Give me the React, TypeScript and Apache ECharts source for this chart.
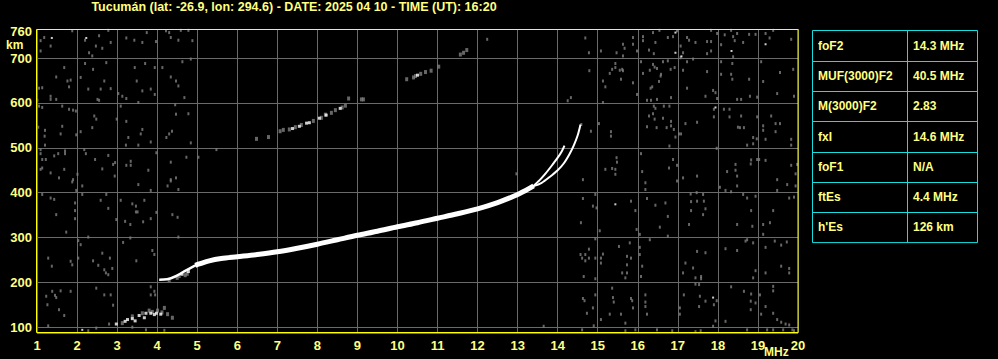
import React, { useEffect, useRef } from 'react';
import * as echarts from 'echarts';

const TITLE = 'Tucumán (lat: -26.9, lon: 294.6) - DATE: 2025 04 10 - TIME (UT): 16:20';
const X_MIN = 1;
const X_MAX = 20;
const Y_MIN = 87;
const Y_MAX = 765;
const Y_TOP_LABEL = '760';
const Y_UNIT = 'km';
const X_UNIT = 'MHz';

const paramNames = ['foF2', 'MUF(3000)F2', 'M(3000)F2', 'fxI', 'foF1', 'ftEs', "h'Es"];
const paramValues = ['14.3 MHz', '40.5 MHz', '2.83', '14.6 MHz', 'N/A', '4.4 MHz', '126 km'];

// F-layer trace (frequency MHz, virtual height km)
const traceEarly = [[4.05, 206], [4.25, 207], [4.45, 213], [4.65, 223], [4.85, 233], [5.05, 241]];
const traceMain = [
  [4.95, 238], [5.05, 241], [5.3, 248], [5.6, 253], [6.0, 257], [6.5, 262], [7.0, 268], [7.5, 276],
  [8.0, 285], [8.5, 295], [9.0, 305], [9.5, 314], [10.0, 324], [10.5, 333], [11.0, 343],
  [11.5, 353], [12.0, 364], [12.5, 378], [12.9, 392], [13.2, 405], [13.4, 415],
];
const traceO = [[13.38, 414], [13.55, 428], [13.7, 443], [13.85, 460], [14.0, 478], [14.1, 492], [14.17, 505]];
const traceX = [[13.38, 414], [13.6, 422], [13.8, 435], [14.0, 450], [14.15, 465], [14.3, 487], [14.4, 505], [14.5, 528], [14.57, 552]];

// Es trace and faint echoes
const echoWhite = [
  [2.98, 107], [3.2, 113], [3.26, 117], [3.38, 119], [3.45, 114], [3.55, 126], [3.68, 121], [3.72, 131],
  [3.84, 131], [3.93, 128], [3.98, 131], [4.09, 129], [4.78, 224], [4.62, 218],
  [7.38, 543], [7.55, 548], [7.73, 555], [7.8, 556], [8.05, 566], [8.22, 573], [8.57, 588], [10.5, 662],
];
const echoGrey = [
  [3.13, 109], [3.38, 124], [3.63, 131], [3.8, 137], [4.01, 137], [4.18, 143], [4.26, 129], [4.38, 121],
  [3.88, 134], [4.12, 133],
  [4.3, 205], [4.55, 214], [4.7, 216], [4.5, 210], [4.75, 219],
  [6.48, 520], [6.78, 524], [7.07, 537], [7.15, 540], [7.3, 541], [7.45, 546], [7.6, 551], [7.9, 560],
  [8.1, 567], [8.2, 574], [8.35, 578], [8.45, 584], [8.62, 590], [8.7, 594], [8.78, 610], [9.1, 608], [9.15, 608],
  [10.23, 653], [10.4, 657], [10.45, 660], [10.58, 665], [10.7, 669], [10.84, 672], [11.03, 681],
  [11.57, 708], [11.65, 712], [11.73, 718],
];

// background noise dots
const noiseLeft = [
  [1.09, 739], [1.18, 746], [1.34, 727], [1.88, 761], [2.2, 740], [2.3, 712], [2.38, 705], [2.47, 727],
  [2.55, 750], [2.63, 722], [2.78, 762], [2.84, 735], [3.23, 745], [3.43, 740], [3.63, 735], [3.74, 757],
  [3.97, 737], [4.22, 761], [4.3, 757], [4.34, 746], [4.53, 740], [4.59, 762], [4.78, 762], [4.88, 739], [1.09, 716],
  [1.48, 658], [1.68, 679], [1.76, 649], [1.84, 651], [1.8, 636], [1.13, 634], [1.05, 633], [1.34, 615],
  [1.34, 608], [1.48, 608], [2.09, 657], [2.2, 688], [2.28, 631], [2.4, 675], [2.55, 606], [2.51, 608],
  [2.59, 631], [2.68, 649], [2.73, 690], [2.84, 632], [3.03, 621], [3.13, 615], [3.23, 610], [3.44, 679],
  [3.49, 649], [3.63, 627], [3.7, 688], [3.84, 631], [3.94, 619], [3.94, 679], [4.13, 679], [4.34, 658],
  [4.47, 649], [4.53, 638], [4.63, 692], [4.68, 612], [4.84, 698], [1.01, 606],
  [1.05, 593], [1.13, 590], [1.63, 593], [1.8, 586], [1.9, 584], [1.97, 582], [2.43, 571], [2.48, 564],
  [2.38, 545], [2.09, 536], [1.59, 531], [1.63, 548], [1.2, 539], [1.19, 526], [1.03, 546], [1.98, 529],
  [2.99, 564], [3.23, 559], [3.09, 593], [3.53, 601], [3.63, 541], [3.59, 531], [3.28, 523], [3.22, 506],
  [3.53, 506], [3.84, 513], [3.98, 489], [4.23, 523], [4.3, 531], [4.37, 537], [4.45, 596], [4.47, 575],
  [4.78, 576], [4.84, 511], [1.2, 506],
  [1.09, 496], [1.09, 487], [1.13, 474], [1.22, 474], [1.43, 482], [1.53, 487], [1.7, 493], [1.7, 487],
  [1.09, 452], [1.13, 455], [1.34, 444], [1.55, 433], [1.68, 452], [1.9, 429], [1.88, 424], [1.98, 405],
  [2.01, 441], [2.13, 415], [2.22, 487], [2.18, 496], [2.45, 474], [2.63, 453], [2.78, 483], [2.9, 463],
  [2.95, 467], [2.94, 437], [3.34, 470], [3.34, 461], [3.23, 461], [3.53, 418], [3.78, 450], [3.84, 405],
  [4.26, 415], [4.34, 468], [4.34, 429], [4.34, 426], [4.47, 433], [4.53, 407], [4.73, 479], [5.03, 479],
  [1.13, 396], [1.34, 388], [1.43, 385], [1.48, 351], [1.73, 312], [1.95, 377], [1.95, 360], [1.95, 342],
  [2.13, 396], [2.59, 383], [2.73, 396], [2.78, 365], [2.98, 340], [3.09, 383], [3.2, 336], [3.33, 329],
  [3.38, 375], [3.47, 370], [3.47, 357], [3.51, 357], [3.65, 335], [3.68, 383], [3.84, 342], [3.98, 356],
  [4.38, 351], [4.51, 345], [4.53, 301],
  [2.03, 293], [2.09, 284], [2.28, 301], [1.28, 254], [1.37, 236], [1.84, 247], [1.88, 239], [2.03, 254],
  [2.4, 248], [2.53, 238], [2.63, 265], [2.68, 228], [2.72, 221], [2.78, 217], [2.82, 254], [2.88, 231],
  [3.15, 289], [3.33, 299], [3.48, 248], [3.88, 271], [3.93, 262],
  [1.23, 169], [1.26, 150], [1.38, 180], [1.45, 171], [1.48, 166], [1.59, 181], [1.55, 139], [1.68, 126],
  [1.84, 180], [2.48, 187], [2.68, 172], [2.84, 172], [2.9, 149], [2.8, 107], [3.84, 190], [3.93, 180],
  [3.95, 172], [3.84, 172], [1.28, 103], [2.28, 92], [2.48, 98], [3.38, 100], [3.72, 94], [4.18, 93],
];
const noiseMid = [[5.48, 496], [12.24, 742], [12.97, 442], [13.65, 102], [14.33, 612], [14.25, 605]];
const noiseRight = [
  [14.69, 745], [14.78, 712], [15.08, 716], [15.47, 712], [15.63, 731], [15.63, 705], [15.67, 722], [15.88, 746],
  [15.88, 731], [15.98, 716], [16.13, 748], [16.13, 739], [16.28, 718], [16.38, 757], [16.4, 710], [16.44, 735],
  [16.54, 762], [16.75, 746], [16.88, 748], [16.98, 761], [17.07, 727], [17.13, 712], [17.23, 746], [17.28, 740],
  [17.44, 735], [17.73, 737], [17.73, 710], [17.83, 762], [17.83, 737], [17.83, 716], [17.98, 755], [18.08, 730],
  [18.17, 752], [18.33, 762], [18.38, 748], [18.42, 739], [18.48, 755], [18.63, 735], [18.78, 753], [18.94, 753],
  [19.19, 755], [19.29, 745], [19.38, 762], [19.83, 742], [18.38, 703],
  [14.79, 672], [15.13, 649], [15.19, 636], [15.3, 666], [15.36, 675], [15.44, 679], [15.44, 688], [15.55, 673],
  [15.61, 675], [15.63, 672], [15.58, 653], [15.88, 645], [15.98, 619], [16.08, 692], [16.13, 666], [16.3, 673],
  [16.32, 633], [16.36, 636], [16.38, 686], [16.42, 680], [16.48, 677], [16.53, 648], [16.57, 660], [16.58, 664],
  [16.63, 692], [16.75, 694], [16.82, 675], [16.83, 612], [16.92, 679], [17.07, 701], [17.13, 673], [17.23, 633],
  [17.23, 692], [17.38, 698], [17.69, 615], [17.73, 670], [17.88, 628], [17.94, 623], [17.98, 610], [18.08, 692],
  [18.08, 664], [18.33, 664], [18.36, 688], [18.36, 653], [18.48, 608], [18.58, 608], [18.78, 653], [18.8, 615],
  [18.98, 613], [19.08, 692], [19.13, 648], [19.48, 621], [19.55, 668], [19.88, 675], [19.9, 615], [16.23, 606],
  [16.33, 606], [16.48, 608],
  [14.59, 552], [14.83, 537], [15.03, 554], [15.13, 601], [15.33, 536], [15.33, 526], [16.23, 547], [16.28, 571],
  [16.38, 576], [16.42, 564], [16.44, 588], [16.47, 545], [16.63, 566], [16.72, 545], [16.83, 559], [16.83, 549],
  [16.9, 541], [16.94, 524], [17.03, 531], [17.08, 531], [17.19, 554], [17.48, 557], [17.9, 586], [17.9, 569],
  [18.15, 586], [18.29, 586], [18.29, 569], [18.5, 546], [18.55, 545], [18.58, 571], [18.65, 545], [18.73, 506],
  [18.88, 523], [18.88, 509], [18.97, 520], [18.98, 569], [19.13, 549], [19.13, 539], [19.19, 519], [19.33, 571],
  [19.44, 554], [19.44, 536], [19.55, 554], [19.83, 519], [19.83, 506], [16.79, 504], [16.4, 593], [16.65, 593],
  [16.79, 593],
  [14.63, 429], [15.19, 452], [15.36, 454], [15.44, 452], [15.47, 478], [15.48, 468], [15.44, 441], [16.08, 487],
  [16.11, 447], [16.19, 422], [16.19, 407], [16.78, 455], [16.88, 474], [16.98, 461], [16.98, 426], [17.13, 433],
  [17.48, 437], [17.97, 499], [18.05, 412], [18.23, 447], [18.44, 463], [18.44, 450], [18.48, 437], [18.48, 415],
  [18.82, 464], [18.83, 473], [18.98, 474], [19.03, 474], [19.19, 472], [19.48, 429], [19.83, 461], [19.94, 442],
  [19.98, 463], [19.48, 405], [19.73, 418], [19.94, 415], [18.19, 405], [18.33, 402],
  [14.63, 387], [14.94, 396], [14.97, 366], [14.88, 370], [15.83, 381], [15.94, 360], [16.23, 387], [16.44, 372],
  [16.55, 323], [16.69, 377], [16.75, 347], [16.75, 303], [17.32, 397], [17.33, 380], [17.33, 360], [17.47, 400],
  [17.48, 381], [17.63, 396], [17.65, 381], [17.69, 364], [17.63, 351], [17.28, 329], [18.48, 329], [18.63, 396],
  [18.73, 388], [18.83, 360], [18.86, 325], [18.94, 392], [19.13, 329], [19.13, 307], [19.3, 333], [19.38, 360],
  [19.78, 388], [19.9, 390], [14.58, 333], [15.05, 315], [15.97, 318], [16.05, 307], [16.3, 295],
  [14.57, 262], [14.61, 254], [14.69, 262], [14.69, 248], [14.78, 274], [14.78, 254], [14.94, 297], [14.94, 254],
  [14.94, 208], [14.65, 213], [15.08, 254], [15.13, 263], [15.08, 243], [15.53, 280], [15.73, 258], [15.73, 239],
  [15.73, 221], [15.8, 288], [15.83, 254], [15.61, 221], [15.69, 210], [16.05, 278], [16.05, 262], [16.08, 213],
  [16.11, 236], [17.19, 243], [17.13, 221], [17.38, 232], [17.44, 210], [17.48, 269], [17.58, 213], [17.58, 208],
  [17.69, 266], [18.19, 275], [18.48, 271], [18.69, 292], [18.73, 295], [18.88, 288], [18.94, 226], [19.19, 278],
  [19.19, 221], [19.42, 292], [19.58, 283], [19.58, 236], [19.72, 290], [19.78, 231], [19.78, 221], [18.88, 210],
  [14.63, 164], [14.67, 159], [14.73, 131], [14.88, 143], [14.94, 172], [15.08, 117], [15.36, 187], [15.38, 166],
  [15.4, 156], [15.3, 129], [15.58, 129], [15.69, 109], [15.83, 164], [15.86, 159], [15.88, 143], [16.19, 172],
  [16.19, 156], [16.19, 146], [16.23, 129], [16.48, 94], [17.05, 143], [17.05, 129], [17.15, 172], [17.44, 196],
  [17.53, 195], [17.55, 169], [17.53, 146], [17.69, 158], [17.9, 150], [17.94, 114], [17.97, 159], [18.19, 113],
  [18.33, 190], [18.65, 180], [18.82, 158], [18.82, 139], [18.83, 174], [18.94, 154], [19.05, 172], [19.08, 129],
  [19.19, 146], [19.38, 191], [19.38, 181], [19.38, 131], [19.48, 117], [19.58, 111], [19.69, 107], [19.78, 105],
  [19.86, 94], [19.9, 92], [14.9, 103], [14.61, 94], [15.69, 92], [15.94, 94], [16.86, 92], [17.44, 90],
  [17.57, 92], [17.88, 102], [18.73, 94], [19.23, 94], [19.38, 94], [19.63, 94],
];
const noiseWhite = [
  [1.37, 745], [2.23, 745], [2.13, 94], [16.94, 757], [16.94, 712], [17.09, 704], [18.34, 716], [19.19, 731],
  [17.94, 590], [15.44, 374], [17.88, 166],
];

const FONT = '"Liberation Sans", Arial, sans-serif';
const PALE_YELLOW = '#ffff80';
const CYAN = '#17dede';

export default function App() {
  const ref = useRef<HTMLDivElement>(null);

  useEffect(() => {
    if (!ref.current) return;
    const chart = echarts.init(ref.current, null, { renderer: 'svg' });

    const gLeft = 37;
    const gTop = 29;
    const gRight = 798;
    const gBottom = 333;

    // table geometry
    const tL = 812.5, tR = 977.5, tC = 907.5, tT = 30.5, rowH = 30.3;
    const nRows = paramNames.length;
    const tB = tT + nRows * rowH;
    const tableEls: any[] = [];
    tableEls.push({
      type: 'rect', shape: { x: tL, y: tT, width: tR - tL, height: tB - tT },
      style: { fill: 'none', stroke: CYAN, lineWidth: 1 }, z: 100,
    });
    tableEls.push({
      type: 'line', shape: { x1: tC, y1: tT, x2: tC, y2: tB },
      style: { stroke: CYAN, lineWidth: 1 }, z: 100,
    });
    for (let i = 1; i < nRows; i++) {
      const y = Math.round(tT + i * rowH) + 0.5;
      tableEls.push({
        type: 'line', shape: { x1: tL, y1: y, x2: tR, y2: y },
        style: { stroke: CYAN, lineWidth: 1 }, z: 100,
      });
    }
    paramNames.forEach((name, i) => {
      const cy = tT + (i + 0.5) * rowH;
      tableEls.push({
        type: 'text', x: 818, y: cy, z: 100,
        style: { text: name, fill: PALE_YELLOW, font: `bold 12px ${FONT}`, textAlign: 'left', textVerticalAlign: 'middle' },
      });
      tableEls.push({
        type: 'text', x: 913, y: cy, z: 100,
        style: { text: paramValues[i], fill: PALE_YELLOW, font: `bold 12px ${FONT}`, textAlign: 'left', textVerticalAlign: 'middle' },
      });
    });

    const option: any = {
      animation: false,
      backgroundColor: '#000000',
      grid: { left: gLeft, top: gTop, right: 998 - gRight, bottom: 359 - gBottom, containLabel: false },
      xAxis: {
        type: 'value', min: X_MIN, max: X_MAX, interval: 1,
        axisLine: { show: false }, axisTick: { show: false },
        axisLabel: { color: PALE_YELLOW, fontWeight: 'bold', fontSize: 13, fontFamily: FONT, margin: 6, showMaxLabel: true, showMinLabel: true },
        splitLine: { show: true, lineStyle: { color: '#6a6a6a', width: 1 } },
      },
      yAxis: {
        type: 'value', min: Y_MIN, max: Y_MAX, splitNumber: 7,
        axisLine: { show: false }, axisTick: { show: false },
        axisLabel: {
          color: PALE_YELLOW, fontWeight: 'bold', fontSize: 13, fontFamily: FONT, margin: 5,
          formatter: (v: number) => (v % 100 === 0 && v >= 100 && v <= 700 ? String(v) : ''),
        },
        splitLine: { show: true, lineStyle: { color: '#6a6a6a', width: 1 } },
      },
      series: [
        {
          type: 'scatter', data: [...noiseLeft, ...noiseMid, ...noiseRight], symbol: 'rect', symbolSize: [2, 3],
          itemStyle: { color: '#808080' }, silent: true, z: 2,
        },
        {
          type: 'scatter', data: noiseWhite, symbol: 'rect', symbolSize: [2, 2],
          itemStyle: { color: '#ffffff' }, silent: true, z: 3,
        },
        {
          type: 'scatter', data: echoGrey, symbol: 'rect', symbolSize: [3, 4],
          itemStyle: { color: '#808080' }, silent: true, z: 3,
        },
        {
          type: 'scatter', data: echoWhite, symbol: 'rect', symbolSize: [3, 3],
          itemStyle: { color: '#ffffff' }, silent: true, z: 4,
        },
        {
          type: 'line', data: traceEarly, smooth: 0.3, showSymbol: false, silent: true, z: 5,
          lineStyle: { color: '#ffffff', width: 2.5 },
        },
        {
          type: 'line', data: traceMain, smooth: 0.3, showSymbol: false, silent: true, z: 5,
          lineStyle: { color: '#ffffff', width: 5 },
        },
        {
          type: 'line', data: traceO, smooth: 0.3, showSymbol: false, silent: true, z: 5,
          lineStyle: { color: '#ffffff', width: 2 },
        },
        {
          type: 'line', data: traceX, smooth: 0.3, showSymbol: false, silent: true, z: 5,
          lineStyle: { color: '#ffffff', width: 2 },
        },
      ],
      graphic: [
        {
          type: 'rect', shape: { x: 36.5, y: 29.5, width: 761.5, height: 303 },
          style: { fill: 'none', stroke: '#ffff00', lineWidth: 1 }, z: 100, silent: true,
        },
        {
          type: 'text', x: 294, y: 7, z: 100,
          style: { text: TITLE, fill: PALE_YELLOW, font: `bold 12.5px ${FONT}`, textAlign: 'center', textVerticalAlign: 'middle' },
        },
        {
          type: 'text', x: 32, y: 31, z: 100,
          style: { text: Y_TOP_LABEL, fill: PALE_YELLOW, font: `bold 13px ${FONT}`, textAlign: 'right', textVerticalAlign: 'middle' },
        },
        {
          type: 'text', x: 6, y: 45, z: 100,
          style: { text: Y_UNIT, fill: PALE_YELLOW, font: `bold 12px ${FONT}`, textAlign: 'left', textVerticalAlign: 'middle' },
        },
        {
          type: 'text', x: 764, y: 352, z: 100,
          style: { text: X_UNIT, fill: PALE_YELLOW, font: `bold 12px ${FONT}`, textAlign: 'left', textVerticalAlign: 'middle' },
        },
        ...tableEls,
      ],
    };
    chart.setOption(option);
    return () => chart.dispose();
  }, []);

  return (
    <div
      ref={ref}
      style={{ position: 'fixed', left: 0, top: 0, width: 998, height: 359, background: '#000' }}
    />
  );
}
